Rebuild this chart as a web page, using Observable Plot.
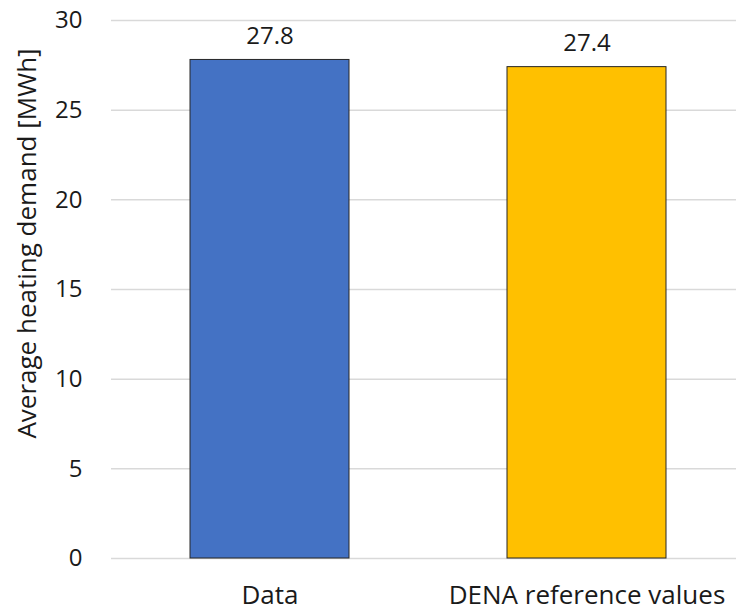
<!DOCTYPE html>
<html><head><meta charset="utf-8">
<script src="https://cdn.jsdelivr.net/npm/d3@7"></script>
<script src="https://cdn.jsdelivr.net/npm/@observablehq/plot@0.6"></script>
<style>body{margin:0;background:#fff;}</style>
</head><body><div id="chart"></div>
<script>
const categories = ["Data", "DENA reference values"];
const values = [27.8, 27.4];
const colors = ["#4472C4", "#FFC000"];
const yTicks = [0, 5, 10, 15, 20, 25, 30];
const yLabel = "Average heating demand [MWh]";

const data = categories.map((c, i) => ({category: c, value: values[i], color: colors[i]}));

const chart = Plot.plot({
  width: 736, height: 614,
  marginLeft: 111, marginRight: 0, marginTop: 20, marginBottom: 56,
  style: {fontFamily: "'Open Sans', sans-serif", fontSize: "24px", color: "#1a1a1a", background: "#fff"},
  color: {type: "identity"},
  x: {domain: categories, range: [111, 745], paddingInner: 0.5, paddingOuter: 0.25, label: null},
  y: {domain: [0, 30], label: null},
  marks: [
    Plot.ruleY(yTicks, {stroke: "#d9d9d9", strokeWidth: 1.5}),
    Plot.barY(data, {x: "category", y: "value", fill: "color", stroke: "#262626", strokeWidth: 1}),
    Plot.text(data, {x: "category", y: "value", text: d => d.value.toFixed(1), dy: -24, fontSize: 24, fill: "#1a1a1a"}),
    Plot.axisY(yTicks, {tickSize: 0, tickPadding: 29, label: null, fontSize: 24, fill: "#1a1a1a"}),
    Plot.axisX({tickSize: 0, tickPadding: 27, label: null, fontSize: 26, fill: "#1a1a1a"}),
    Plot.text([yLabel], {frameAnchor: "left", textAnchor: "middle", rotate: -90, dx: -84, dy: -46, fontSize: 26, fill: "#1a1a1a"})
  ]
});
document.getElementById("chart").appendChild(chart);
</script>
</body></html>
